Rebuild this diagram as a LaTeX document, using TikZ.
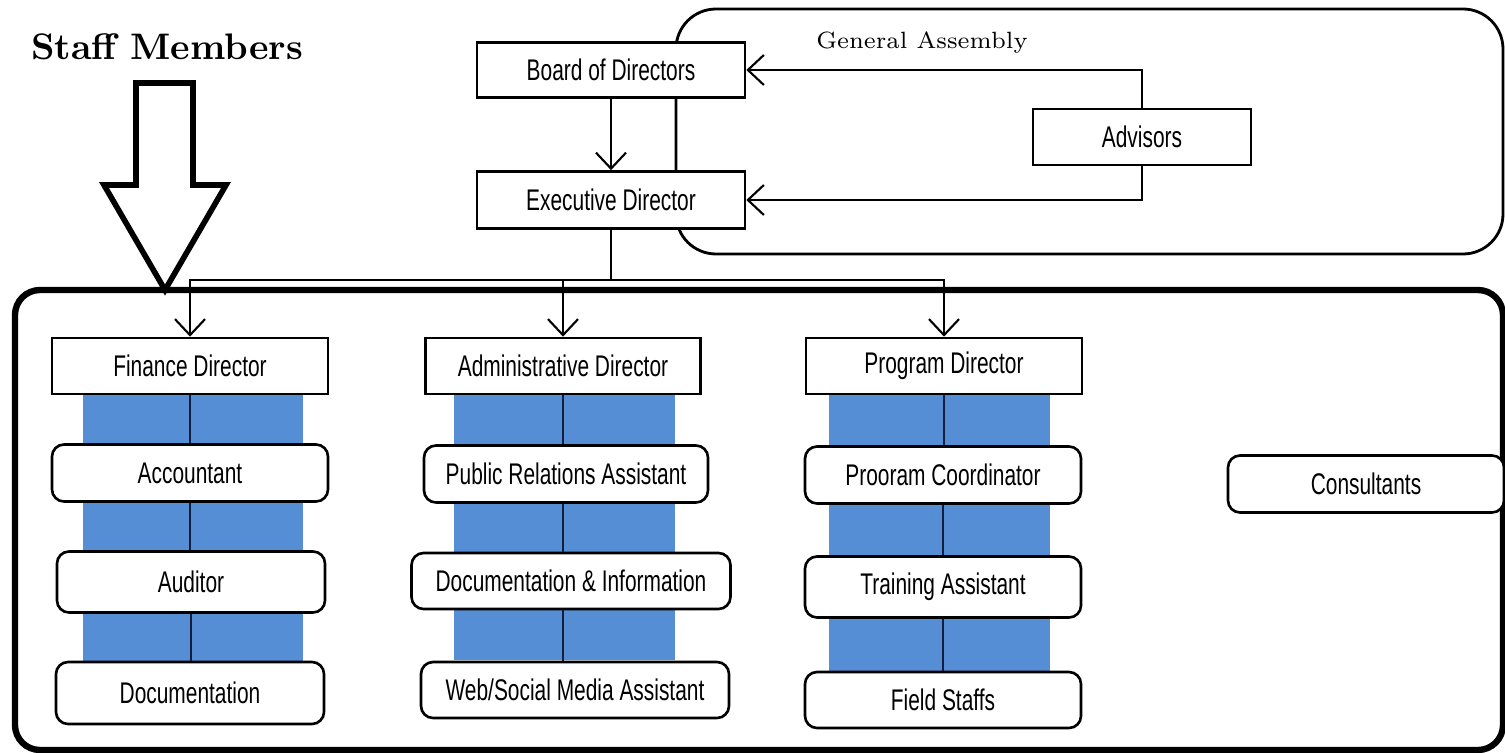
\documentclass[tikz,border=0pt]{standalone}
\usepackage{fontspec}
\newfontfamily\agency{Liberation Sans}[FakeStretch=0.7]
\usetikzlibrary{arrows.meta}

\begin{document}
\begin{tikzpicture}[x=0.1mm,y=-0.1mm,->,>={Straight Barb[length=1.6mm,width=3mm]},semithick,
    sqbox/.style={draw=black,line width=0.75pt,fill=white,inner sep=0pt,font=\agency\fontsize{8.5}{10}\selectfont},
    rndbox/.style={sqbox,rounded corners=1.2mm},
    band/.style={fill={rgb,255:red,85;green,142;blue,213}},
    link/.style={-,draw={rgb,255:red,20;green,30;blue,60},line width=0.8pt}]
    \useasboundingbox (0,0) rectangle (1505,753);
    % frames and blue bands
    \draw[-,line width=0.8pt,rounded corners=4mm] (676,9) rectangle (1503,254);
    \draw[-,line width=1.8pt,rounded corners=2.5mm] (15,290) rectangle (1503,750);
    \fill[band] (83,394) rectangle (303,662);
    \fill[band] (454,394) rectangle (675,660);
    \fill[band] (829,394) rectangle (1050,672);
    \draw[-,line width=1.6pt,fill=white,line join=miter] (136,83) -- (193,83) -- (193,185) -- (226,185)
        -- (165,290) -- (104,185) -- (136,185) -- cycle;
    % titles
    \node[font=\fontsize{10.5}{12}\selectfont\bfseries](staff)at(167, 47){Staff Members};
    \node[font=\fontsize{6.7}{8}\selectfont](assembly)at(922, 43){General Assembly};
    % top
    \node[sqbox,minimum width=26.8mm,minimum height=5.5mm](board)at(611, 70){Board of Directors};
    \node[sqbox,minimum width=26.8mm,minimum height=5.7mm](exec)at(611, 200){Executive Director};
    \node[sqbox,minimum width=21.8mm,minimum height=5.6mm](advisors)at(1142, 137){Advisors};
    % directors
    \node[sqbox,minimum width=27.6mm,minimum height=5.6mm](finance)at(190, 366){Finance Director};
    \node[sqbox,minimum width=27.5mm,minimum height=5.6mm](admin)at(563, 366){Administrative Director};
    \node[sqbox,minimum width=27.6mm,minimum height=5.6mm](program)at(944, 366){Program Director};
    % staff
    \node[rndbox,minimum width=27.6mm,minimum height=5.7mm](accountant)at(190, 473){Accountant};
    \node[rndbox,minimum width=26.8mm,minimum height=6.1mm](auditor)at(191, 582){Auditor};
    \node[rndbox,minimum width=26.8mm,minimum height=6.2mm](documentation)at(190, 693){Documentation};
    \node[rndbox,minimum width=28.4mm,minimum height=5.7mm](relations)at(566, 474){Public Relations Assistant};
    \node[rndbox,minimum width=31.9mm,minimum height=5.6mm](docinfo)at(571, 581){Documentation \& Information};
    \node[rndbox,minimum width=30.8mm,minimum height=5.6mm](web)at(575, 690){Web/Social Media Assistant};
    \node[rndbox,minimum width=27.6mm,minimum height=5.7mm](coordinator)at(943, 475){Prooram Coordinator};
    \node[rndbox,minimum width=27.6mm,minimum height=6.1mm](training)at(943, 587){Training Assistant};
    \node[rndbox,minimum width=27.6mm,minimum height=5.6mm](field)at(943, 700){Field Staffs};
    \node[rndbox,minimum width=27.6mm,minimum height=5.7mm](consultants)at(1366, 484){Consultants};
    % connectors
    \path (board) edge (exec)
        (advisors.north) edge[to path={|- (\tikztotarget)}] (board.east)
        (advisors.south) edge[to path={|- (\tikztotarget)}] (exec.east);
    \draw (exec.south) -- ++(0,50) -| (finance.north);
    \draw (exec.south) -- ++(0,50) -| (admin.north);
    \draw (exec.south) -- ++(0,50) -| (program.north);
    \draw[link] (finance.south) -- (finance.south |- accountant.north)
        (accountant.south) -- (accountant.south |- auditor.north)
        (auditor.south) -- (auditor.south |- documentation.north);
    \draw[link] (admin.south) -- (admin.south |- relations.north)
        (admin.south |- relations.south) -- (admin.south |- docinfo.north)
        (admin.south |- docinfo.south) -- (admin.south |- web.north);
    \draw[link] (program.south) -- (program.south |- coordinator.north)
        (coordinator.south) -- (coordinator.south |- training.north)
        (training.south) -- (training.south |- field.north);
\end{tikzpicture}
\end{document}
